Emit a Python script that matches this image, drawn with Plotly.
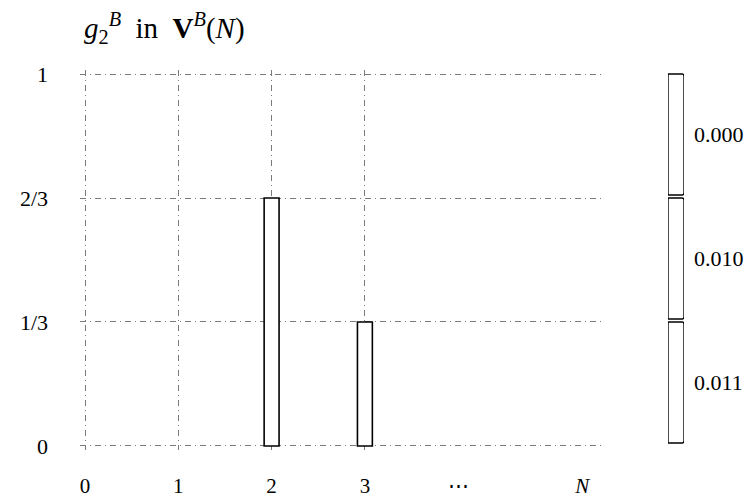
import plotly.graph_objects as go

# ---- data ----
grid_categories = ["0", "1", "2", "3"]
grid_pos = [0, 1, 2, 3]
extra_labels = ["⋯", "<i>N</i>"]
extra_pos = [4, 5.33]
bar_x = [2, 3]
bar_values = [2 / 3, 1 / 3]
y_ticks = [0, 1 / 3, 2 / 3, 1]
y_ticktext = ["0", "1/3", "2/3", "1"]
legend_labels = ["0.000", "0.010", "0.011"]
legend_values = [1, 1, 1]

W, H = 752, 498
FONT = "Liberation Serif"


def fx(p):
    return p / W


def fy(p):
    return 1 - p / H


grid_style = dict(showgrid=True, gridcolor="#7a7a7a", gridwidth=1,
                  griddash="6px,4px,1px,4px")

fig = go.Figure()

fig.add_trace(go.Bar(
    x=bar_x, y=bar_values, width=0.16,
    marker=dict(color="white", line=dict(color="black", width=1.6)),
    xaxis="x", yaxis="y", hoverinfo="skip",
))

fig.add_trace(go.Bar(
    y=legend_labels, x=legend_values, orientation="h",
    marker=dict(color="white", line=dict(color="black", width=1.4), cornerradius=2),
    xaxis="x2", yaxis="y2", hoverinfo="skip",
))

# invisible helper so the overlay axis for the extra tick labels is rendered
fig.add_trace(go.Scatter(x=[extra_pos[0]], y=[0], mode="markers",
                         marker=dict(opacity=0), xaxis="x3", yaxis="y",
                         hoverinfo="skip"))

xr = [(80 - 85) / 93.3, (603 - 85) / 93.3]

fig.update_layout(
    width=W, height=H,
    margin=dict(l=0, r=0, t=0, b=0, autoexpand=False),
    paper_bgcolor="white", plot_bgcolor="white",
    showlegend=False,
    bargap=0.024,
    font=dict(family=FONT, size=21, color="black"),
    xaxis=dict(domain=[fx(80), fx(603)], range=xr, automargin=False,
               tickmode="array", tickvals=grid_pos, ticktext=grid_categories,
               zeroline=False, showline=False, ticks="",
               ticklabelstandoff=21, tickfont=dict(size=21),
               **grid_style),
    xaxis3=dict(domain=[fx(80), fx(603)], range=xr, overlaying="x",
                anchor="y", side="bottom", automargin=False,
                tickmode="array", tickvals=extra_pos, ticktext=extra_labels,
                showgrid=False, zeroline=False, showline=False, ticks="",
                ticklabelstandoff=21, tickfont=dict(size=21)),
    yaxis=dict(domain=[fy(449.7), fy(70.3)], range=[-0.01, 1.01],
               automargin=False,
               tickmode="array", tickvals=y_ticks, ticktext=y_ticktext,
               zeroline=False, showline=False, ticks="",
               ticklabelstandoff=31, tickfont=dict(size=22),
               **grid_style),
    xaxis2=dict(domain=[fx(668), fx(684)], range=[0, 1], anchor="y2",
                automargin=False,
                showgrid=False, zeroline=False, showticklabels=False,
                showline=False, ticks=""),
    yaxis2=dict(domain=[fy(444.5), fy(72.5)], anchor="x2", side="right",
                automargin=False,
                type="category", categoryorder="array",
                categoryarray=legend_labels, autorange="reversed",
                showgrid=False, zeroline=False, showline=False, ticks="",
                ticklabelstandoff=9, tickfont=dict(size=22)),
)

fig.add_annotation(
    xref="paper", yref="paper", x=fx(82), y=fy(28),
    xanchor="left", yanchor="middle", showarrow=False,
    text="<i>g</i><sub>2</sub><sup><i>B</i></sup>  in  <b>V</b><sup><i>B</i></sup>(<i>N</i>)",
    font=dict(family=FONT, size=29, color="black"),
)

fig.write_html("out.html")
